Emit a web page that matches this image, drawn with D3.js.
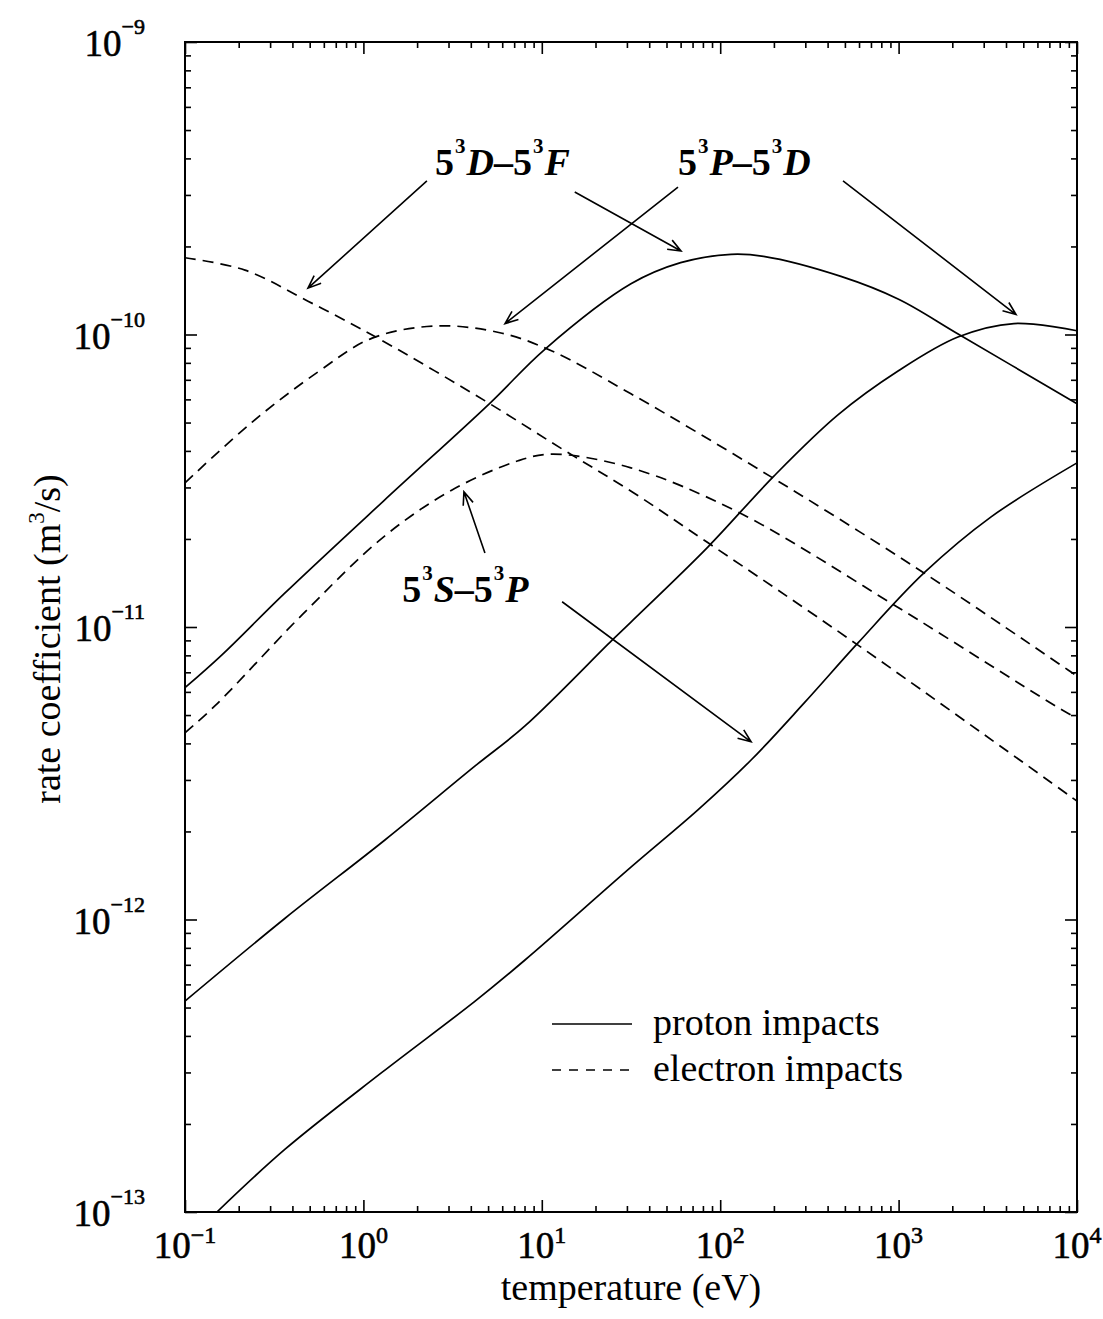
<!DOCTYPE html>
<html>
<head>
<meta charset="utf-8">
<script src="https://cdn.jsdelivr.net/npm/d3@7"></script>
<style>
    body { margin: 0; background: #fff; }
    svg { display: block; font-family: "Liberation Serif", "Times New Roman", serif; }
</style>
</head>
<body>
<div id="chart"></div>
<script>
// Proton impacts (solid) - temperature in eV, rate coefficient in m^3/s
const protonDF_T = [0.1, 0.16, 0.36, 1.3, 5.13, 10.4, 31.6, 60, 115, 175, 475, 1000, 2180, 10000];
const protonDF_k = [6.2e-12, 8.0e-12, 1.3e-11, 2.7e-11, 5.83e-11, 8.9e-11, 1.49e-10, 1.76e-10, 1.88e-10, 1.85e-10, 1.58e-10, 1.32e-10, 1.0e-10, 5.8e-11];

const protonPD_T = [0.1, 0.364, 1.32, 4.23, 8.05, 24.7, 31.6, 85.5, 200, 457, 993, 2150, 4430, 10000];
const protonPD_k = [5.26e-13, 1.01e-12, 1.87e-12, 3.35e-12, 4.59e-12, 9.0e-12, 1.04e-11, 1.88e-11, 3.28e-11, 5.31e-11, 7.5e-11, 9.8e-11, 1.09e-10, 1.03e-10];

const protonSP_T = [0.151, 0.364, 1.27, 4.23, 8.05, 31.6, 75, 149, 295, 592, 1388, 3300, 10000];
const protonSP_k = [1.0e-13, 1.64e-13, 3.0e-13, 5.26e-13, 7.27e-13, 1.51e-12, 2.37e-12, 3.51e-12, 5.49e-12, 8.82e-12, 1.53e-11, 2.38e-11, 3.64e-11];

// Electron impacts (dashed)
const electronDF_T = [0.1, 0.217, 0.489, 1.21, 4.81, 13.0, 32.0, 85.5, 592, 10000];
const electronDF_k = [1.83e-10, 1.66e-10, 1.30e-10, 9.7e-11, 5.93e-11, 4.06e-11, 2.9e-11, 1.94e-11, 8.67e-12, 2.54e-12];

const electronPD_T = [0.1, 0.238, 0.557, 1.12, 2.62, 5.99, 11.4, 31.6, 193, 1388, 8910, 10000];
const electronPD_k = [3.11e-11, 5.02e-11, 7.45e-11, 9.72e-11, 1.07e-10, 1.01e-10, 8.78e-11, 6.27e-11, 3.26e-11, 1.53e-11, 7.13e-12, 6.8e-12];

const electronSP_T = [0.1, 0.147, 0.453, 1.32, 3.14, 7.36, 11.4, 31.6, 126, 942, 9250, 10000];
const electronSP_k = [4.35e-12, 5.37e-12, 1.10e-11, 2.05e-11, 2.94e-11, 3.70e-11, 3.90e-11, 3.50e-11, 2.47e-11, 1.19e-11, 5.0e-12, 4.9e-12];

// Axis ticks
const xMajor = [0.1, 1, 10, 100, 1000, 10000];
const xExponents = ['\u22121', '0', '1', '2', '3', '4'];
const yMajor = [1e-9, 1e-10, 1e-11, 1e-12, 1e-13];
const yExponents = ['\u22129', '\u221210', '\u221211', '\u221212', '\u221213'];

// Transition labels: [lower term, upper term] and their arrows (data coordinates)
const labelParts = [['S', 'P'], ['P', 'D'], ['D', 'F']];
const labelAt = [[1.65, 1.22e-11], [58, 3.51e-10], [2.52, 3.51e-10]];
const arrowFrom = [[[4.8, 1.79e-11], [13.0, 1.22e-11]], [[58, 3.19e-10], [488, 3.35e-10]], [[2.27, 3.35e-10], [15.3, 3.07e-10]]];
const arrowTo = [[[3.66, 2.9e-11], [149, 4.05e-12]], [[6.22, 1.09e-10], [4550, 1.17e-10]], [[0.489, 1.44e-10], [60.3, 1.93e-10]]];

const legendNames = ['proton impacts', 'electron impacts'];

// Layout
const width = 1103, height = 1319;
const margin = { left: 185, right: 1077, top: 42, bottom: 1212 };

const svg = d3.select('#chart')
    .append('svg')
    .attr('width', width)
    .attr('height', height);

const x = d3.scaleLog().domain([0.1, 1e4]).range([margin.left, margin.right]);
const y = d3.scaleLog().domain([1e-13, 1e-9]).range([margin.bottom, margin.top]);

// Clip the curves to the frame
svg.append('defs').append('clipPath')
    .attr('id', 'plotClip')
    .append('rect')
    .attr('x', margin.left).attr('y', margin.top)
    .attr('width', margin.right - margin.left).attr('height', margin.bottom - margin.top);

// Ticks: all minor ticks from the log scale, majors at decades
const isDecade = v => Math.abs(Math.log10(v) - Math.round(Math.log10(v))) < 1e-6;
const xMinor = x.ticks().filter(v => !isDecade(v));
const yMinor = y.ticks().filter(v => !isDecade(v));

function drawAxis(axisFn, scale, values, size, transform) {
    svg.append('g')
        .attr('transform', transform)
        .call(axisFn(scale).tickValues(values).tickSize(size).tickFormat(''))
        .call(g => g.select('.domain').remove())
        .call(g => g.selectAll('line').attr('stroke', '#000').attr('stroke-width', 1.6));
}

drawAxis(d3.axisBottom, x, xMinor, -6, `translate(0,${margin.bottom})`);
drawAxis(d3.axisBottom, x, xMajor, -12, `translate(0,${margin.bottom})`);
drawAxis(d3.axisTop, x, xMinor, -6, `translate(0,${margin.top})`);
drawAxis(d3.axisTop, x, xMajor, -12, `translate(0,${margin.top})`);
drawAxis(d3.axisLeft, y, yMinor, -6, `translate(${margin.left},0)`);
drawAxis(d3.axisLeft, y, yMajor, -12, `translate(${margin.left},0)`);
drawAxis(d3.axisRight, y, yMinor, -6, `translate(${margin.right},0)`);
drawAxis(d3.axisRight, y, yMajor, -12, `translate(${margin.right},0)`);

// Frame
svg.append('rect')
    .attr('x', margin.left).attr('y', margin.top)
    .attr('width', margin.right - margin.left).attr('height', margin.bottom - margin.top)
    .attr('fill', 'none')
    .attr('stroke', '#000')
    .attr('stroke-width', 2);

// X tick labels
xMajor.forEach((v, i) => {
    const t = svg.append('text')
        .attr('x', x(v))
        .attr('y', 1258)
        .attr('text-anchor', 'middle')
        .style('font-size', '37px')
        .style('stroke', '#000')
        .style('stroke-width', '0.6px')
        .text('10');
    t.append('tspan')
        .attr('dy', -15)
        .style('font-size', '24px')
        .text(xExponents[i]);
});

// Y tick labels
yMajor.forEach((v, i) => {
    const t = svg.append('text')
        .attr('x', 145)
        .attr('y', y(v) + 14)
        .attr('text-anchor', 'end')
        .style('font-size', '37px')
        .style('stroke', '#000')
        .style('stroke-width', '0.6px')
        .text('10');
    t.append('tspan')
        .attr('dy', -22)
        .style('font-size', '22px')
        .text(yExponents[i]);
});

// Axis titles
svg.append('text')
    .attr('x', (margin.left + margin.right) / 2)
    .attr('y', 1300)
    .attr('text-anchor', 'middle')
    .style('font-size', '38px')
    .text('temperature (eV)');

const yTitle = svg.append('text')
    .attr('transform', `translate(60,${(margin.top + margin.bottom) / 2 + 12}) rotate(-90)`)
    .attr('text-anchor', 'middle')
    .style('font-size', '38px');
yTitle.append('tspan').text('rate coefficient (m');
yTitle.append('tspan').attr('dy', -16).style('font-size', '23px').text('3');
yTitle.append('tspan').attr('dy', 16).text('/s)');

// Curves
const line = d3.line()
    .x(d => x(d[0]))
    .y(d => y(d[1]))
    .curve(d3.curveCatmullRom.alpha(0.5));

const curves = [
    { T: protonDF_T, k: protonDF_k, dash: null },
    { T: protonPD_T, k: protonPD_k, dash: null },
    { T: protonSP_T, k: protonSP_k, dash: null },
    { T: electronDF_T, k: electronDF_k, dash: '11,7' },
    { T: electronPD_T, k: electronPD_k, dash: '11,7' },
    { T: electronSP_T, k: electronSP_k, dash: '11,7' }
];

const curveGroup = svg.append('g').attr('clip-path', 'url(#plotClip)');
curves.forEach(c => {
    curveGroup.append('path')
        .attr('d', line(d3.zip(c.T, c.k)))
        .attr('fill', 'none')
        .attr('stroke', '#000')
        .attr('stroke-width', 1.7)
        .attr('stroke-dasharray', c.dash);
});

// Transition labels
labelParts.forEach((p, i) => {
    const t = svg.append('text')
        .attr('x', x(labelAt[i][0]))
        .attr('y', y(labelAt[i][1]))
        .style('font-size', '38px')
        .style('font-weight', 'bold');
    t.append('tspan').text('5');
    t.append('tspan').attr('dx', 1).attr('dy', -22).style('font-size', '21px').text('3');
    t.append('tspan').attr('dx', 1).attr('dy', 22).style('font-style', 'italic').text(p[0]);
    t.append('tspan').text('\u20135');
    t.append('tspan').attr('dx', 1).attr('dy', -22).style('font-size', '21px').text('3');
    t.append('tspan').attr('dx', 1).attr('dy', 22).style('font-style', 'italic').text(p[1]);
});

// Arrows with open heads
function drawArrow(from, to) {
    const x1 = x(from[0]), y1 = y(from[1]);
    const x2 = x(to[0]), y2 = y(to[1]);
    const a = Math.atan2(y2 - y1, x2 - x1);
    const len = 14, spread = 0.38;
    const h1 = [x2 - len * Math.cos(a - spread), y2 - len * Math.sin(a - spread)];
    const h2 = [x2 - len * Math.cos(a + spread), y2 - len * Math.sin(a + spread)];
    svg.append('path')
        .attr('d', `M${x1},${y1}L${x2},${y2}M${h1[0]},${h1[1]}L${x2},${y2}L${h2[0]},${h2[1]}`)
        .attr('fill', 'none')
        .attr('stroke', '#000')
        .attr('stroke-width', 1.6);
}

arrowFrom.forEach((pair, i) => {
    pair.forEach((f, j) => drawArrow(f, arrowTo[i][j]));
});

// Legend
const legend = svg.append('g');
[null, '9,8'].forEach((dash, i) => {
    const ly = 1024 + i * 46;
    legend.append('line')
        .attr('x1', 552).attr('x2', 632)
        .attr('y1', ly).attr('y2', ly)
        .attr('stroke', '#000')
        .attr('stroke-width', 1.7)
        .attr('stroke-dasharray', dash);
    legend.append('text')
        .attr('x', 653)
        .attr('y', ly + 11)
        .style('font-size', '38px')
        .text(legendNames[i]);
});
</script>
</body>
</html>
